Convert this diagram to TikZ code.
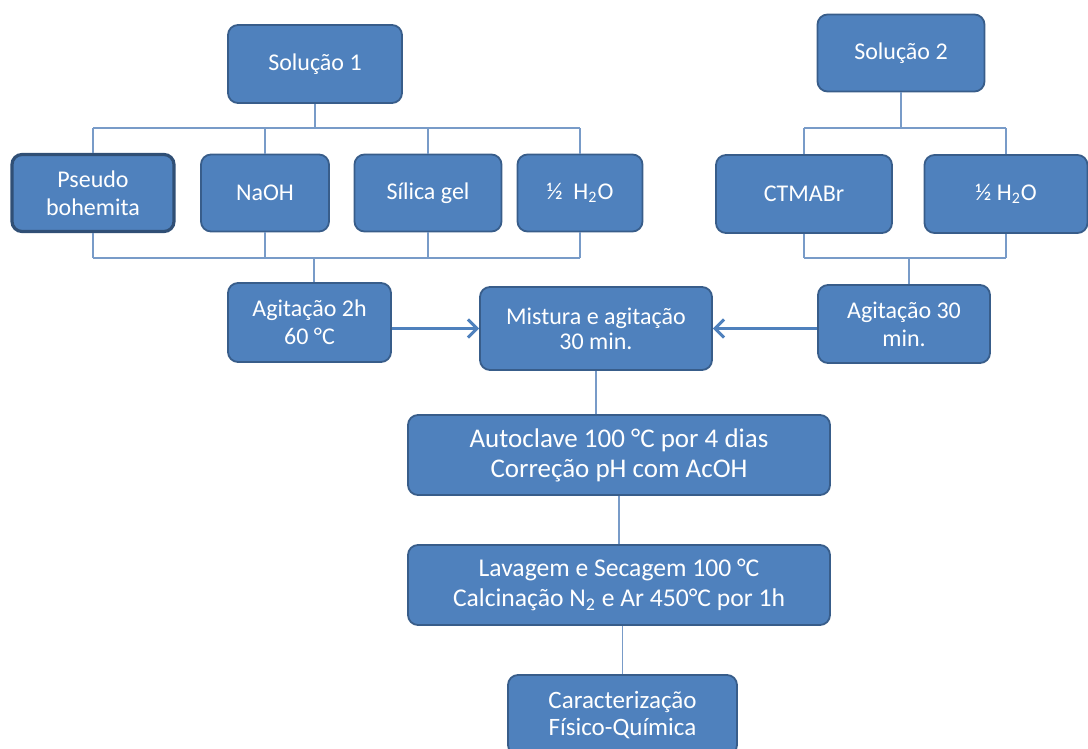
\documentclass[tikz,border=0pt]{standalone}
\usepackage{fontspec}
\setmainfont{Carlito}
\usetikzlibrary{arrows.meta}
\definecolor{boxblue}{RGB}{79,129,189}
\definecolor{boxedge}{RGB}{56,93,138}
\definecolor{linkblue}{RGB}{120,155,200}
\begin{document}
\begin{tikzpicture}[
x=0.5pt,
y=-0.5pt,
box/.style={
  draw=boxedge,
  fill=boxblue,
  line width=0.9pt,
  rounded corners=5pt,
  text=white,
  align=center,
  inner sep=2pt,
  font=\fontsize{12}{14}\selectfont
  },
link/.style={
  draw=linkblue,
  line width=0.7pt
  },
flow/.style={
  draw=boxblue,
  line width=1.5pt,
  -{Straight Barb[length=4.5pt,width=9pt]}
  }
]
\useasboundingbox (0,0) rectangle (1088,749);
% solution 1
\node[box, minimum width=87pt, minimum height=39pt] (sol1) at (315,64) {Solução 1};
\node[box, minimum width=81pt, minimum height=38.5pt, line width=1.6pt, draw=boxedge!85!black] (pseudo) at (93,193) {Pseudo\\bohemita};
\node[box, minimum width=64pt, minimum height=38.5pt] (naoh) at (265,193) {NaOH};
\node[box, minimum width=73.5pt, minimum height=38.5pt] (silica) at (428,193) {Sílica gel};
\node[box, minimum width=62.5pt, minimum height=38.5pt] (agua1) at (580,193) {½\ \ H\textsubscript{2}O};
% solution 2
\node[box, minimum width=83.5pt, minimum height=38.5pt] (sol2) at (901,53) {Solução 2};
\node[box, minimum width=88pt, minimum height=39pt] (ctmabr) at (804,194) {CTMABr};
\node[box, minimum width=81.5pt, minimum height=39pt] (agua2) at (1006,194) {½ H\textsubscript{2}O};
% process
\node[box, minimum width=81.5pt, minimum height=39.5pt] (agit1) at (309.5,322.5) {Agitação 2h\\60 °C};
\node[box, minimum width=116pt, minimum height=41.5pt, font=\fontsize{12}{12.5}\selectfont] (mist) at (596,328.5) {Mistura e agitação\\30 min.};
\node[box, minimum width=86pt, minimum height=39pt] (agit2) at (904,324) {Agitação 30\\min.};
\node[box, minimum width=211pt, minimum height=40pt, font=\fontsize{13.5}{15}\selectfont] (auto) at (619,455) {Autoclave 100 °C por 4 dias\\Correção pH com AcOH};
\node[box, minimum width=211pt, minimum height=40pt, font=\fontsize{12.8}{15}\selectfont] (lav) at (619,585) {Lavagem e Secagem 100 °C\\Calcinação N\textsubscript{2} e Ar 450°C por 1h};
\node[box, minimum width=114.5pt, minimum height=40pt, font=\fontsize{12.5}{13.5}\selectfont] (carac) at (622.5,715) {Caracterização\\Físico-Química};
% buses
\coordinate (bus1) at (315,128);
\coordinate (bus2) at (314,258);
\coordinate (bus3) at (901,128);
\coordinate (bus4) at (909,258);
\draw[link] (sol1.south) -- (bus1);
\draw[link] (pseudo.north |- bus1) -- (agua1.north |- bus1);
\draw[link] (pseudo.south |- bus2) -- (agua1.south |- bus2);
\foreach \n in {pseudo,naoh,silica,agua1}
{
  \draw[link] (\n.north) -- (\n.north |- bus1);
  \draw[link] (\n.south) -- (\n.south |- bus2);
}
\draw[link] (bus2) -- (bus2 |- agit1.north);
\draw[link] (sol2.south) -- (bus3);
\draw[link] (ctmabr.north |- bus3) -- (agua2.north |- bus3);
\draw[link] (ctmabr.south |- bus4) -- (agua2.south |- bus4);
\foreach \n in {ctmabr,agua2}
{
  \draw[link] (\n.north) -- (\n.north |- bus3);
  \draw[link] (\n.south) -- (\n.south |- bus4);
}
\draw[link] (bus4) -- (bus4 |- agit2.north);
% flow
\draw[flow] (agit1.east |- mist.west) -- (mist.west);
\draw[flow] (agit2.west |- mist.east) -- (mist.east);
\draw[link] (mist.south) -- (mist.south |- auto.north);
\draw[link] (auto.south) -- (auto.south |- lav.north);
\draw[link] (carac.north |- lav.south) -- (carac.north);
\end{tikzpicture}
\end{document}
